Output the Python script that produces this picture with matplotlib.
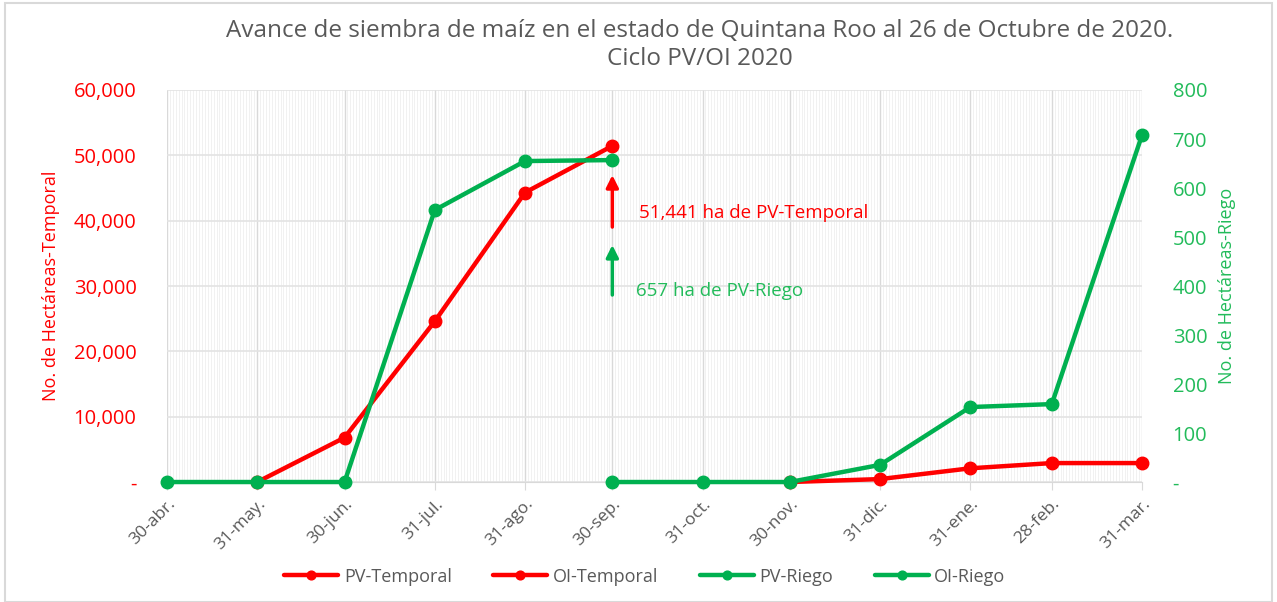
import numpy as np
import pandas as pd
import matplotlib
matplotlib.use('Agg')
import matplotlib.pyplot as plt
import matplotlib.dates as mdates
from matplotlib.ticker import FuncFormatter, MultipleLocator

plt.rcParams['font.family'] = ['Open Sans', 'DejaVu Sans']

# fechas de corte (fin de mes), ciclo PV/OI 2020
fechas = pd.to_datetime(['2020-04-30', '2020-05-31', '2020-06-30', '2020-07-31',
                         '2020-08-31', '2020-09-30', '2020-10-31', '2020-11-30',
                         '2020-12-31', '2021-01-31', '2021-02-28', '2021-03-31'])
etiquetas = ['30-abr.', '31-may.', '30-jun.', '31-jul.', '31-ago.', '30-sep.',
             '31-oct.', '30-nov.', '31-dic.', '31-ene.', '28-feb.', '31-mar.']

# hectareas temporal (eje izquierdo)
pv_temporal_fechas = fechas[1:6]
pv_temporal = [0, 6800, 24600, 44300, 51441]
oi_temporal_fechas = fechas[7:12]
oi_temporal = [0, 450, 2100, 2900, 2900]

# hectareas riego (eje derecho)
pv_riego_fechas = fechas[0:6]
pv_riego = [0, 0, 0, 555, 655, 657]
oi_riego_fechas = fechas[5:12]
oi_riego = [0, 0, 0, 35, 153, 159, 708]

rojo = '#FF0000'
verde = '#00B050'
verde_txt = '#22BB5A'
gris = '#595959'

fig = plt.figure(figsize=(12.77, 6.02), dpi=100)
ax = fig.add_axes([0.1308, 0.1993, 0.7635, 0.6512])
ax2 = ax.twinx()

kw = dict(lw=3.2, marker='o', ms=9, clip_on=False, solid_capstyle='round')
l1, = ax.plot(pv_temporal_fechas, pv_temporal, color=rojo, label='PV-Temporal', zorder=3, **kw)
l2, = ax.plot(oi_temporal_fechas, oi_temporal, color=rojo, label='OI-Temporal', zorder=3, **kw)
l3, = ax2.plot(pv_riego_fechas, pv_riego, color=verde, label='PV-Riego', zorder=3, **kw)
l4, = ax2.plot(oi_riego_fechas, oi_riego, color=verde, label='OI-Riego', zorder=3, **kw)

ax.set_xlim(fechas[0], fechas[-1])
ax.set_ylim(0, 60000)
ax2.set_ylim(0, 800)

ax.set_xticks(fechas)
ax.set_xticklabels(etiquetas, rotation=45, ha='right', rotation_mode='anchor',
                   color=gris, fontsize=12.5)
ax.xaxis.set_minor_locator(mdates.DayLocator())
ax.tick_params(axis='x', which='major', length=6, color='#D9D9D9', pad=4)
ax.tick_params(axis='x', which='minor', length=0)
ax.grid(axis='x', which='minor', color='#EFEFEF', lw=0.6)
ax.grid(axis='x', which='major', color='#D9D9D9', lw=1)
ax.grid(axis='y', which='major', color='#E3E3E3', lw=1.2)
ax.set_axisbelow(True)

ax.yaxis.set_major_locator(MultipleLocator(10000))
ax.yaxis.set_major_formatter(FuncFormatter(lambda v, p: '-' if v == 0 else f'{v:,.0f}'))
ax.tick_params(axis='y', length=0, labelcolor=rojo, labelsize=14.5, pad=22)
ax2.yaxis.set_major_locator(MultipleLocator(100))
ax2.yaxis.set_major_formatter(FuncFormatter(lambda v, p: '-' if v == 0 else f'{v:,.0f}'))
ax2.tick_params(axis='y', length=0, labelcolor=verde_txt, labelsize=14.5, pad=22)

for a in (ax, ax2):
    for s in a.spines.values():
        s.set_visible(False)
ax.spines['bottom'].set_visible(True)
ax.spines['bottom'].set_color('#D9D9D9')

ax.set_ylabel('No. de Hectáreas-Temporal', color=rojo, fontsize=13, labelpad=10)
ax2.set_ylabel('No. de Hectáreas-Riego', color=verde_txt, fontsize=13, labelpad=8)

# flechas y notas
x_sep = fechas[5]
ax.annotate('', xy=(x_sep, 47400), xytext=(x_sep, 38600),
            arrowprops=dict(arrowstyle='-|>', color=rojo, lw=2.5, mutation_scale=18))
ax.annotate('', xy=(x_sep, 36700), xytext=(x_sep, 28200),
            arrowprops=dict(arrowstyle='-|>', color=verde, lw=2.5, mutation_scale=18))
ax.text(x_sep + pd.Timedelta(days=9), 41100, '51,441 ha de PV-Temporal',
        color=rojo, fontsize=13.5, va='center')
ax.text(x_sep + pd.Timedelta(days=8), 29200, '657 ha de PV-Riego',
        color=verde_txt, fontsize=13.5, va='center')

fig.text(0.548, 0.925, 'Avance de siembra de maíz en el estado de Quintana Roo al 26 de Octubre de 2020.\nCiclo PV/OI 2020',
         ha='center', va='center', color=gris, fontsize=17.5, linespacing=1.2)

fig.legend(handles=[l1, l2, l3, l4], loc='center', bbox_to_anchor=(0.505, 0.042),
           ncol=4, frameon=False, fontsize=13, labelcolor=gris,
           handlelength=3, columnspacing=2.3, handletextpad=0.3, markerscale=0.7)

fig.patches.append(plt.Rectangle((0.004, 0.0), 0.992, 0.995, transform=fig.transFigure,
                                 fill=False, edgecolor='#D9D9D9', lw=1.5))

fig.savefig('out.png', dpi=100, facecolor='white')
